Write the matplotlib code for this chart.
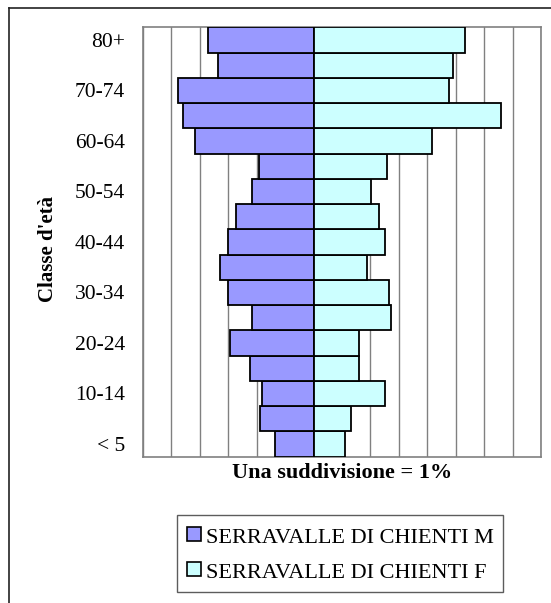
import matplotlib
matplotlib.use("Agg")
import matplotlib.pyplot as plt
import numpy as np
from matplotlib.lines import Line2D

plt.rcParams['font.family'] = ['Liberation Serif', 'DejaVu Serif']

categories = ["< 5", "5-9", "10-14", "15-19", "20-24", "25-29", "30-34", "35-39",
              "40-44", "45-49", "50-54", "55-59", "60-64", "65-69", "70-74", "75-79", "80+"]
male = [1.35, 1.90, 1.83, 2.24, 2.95, 2.17, 3.02, 3.30, 3.02, 2.74, 2.18, 1.92,
        4.16, 4.58, 4.77, 3.37, 3.72]
female = [1.12, 1.31, 2.53, 1.59, 1.59, 2.73, 2.65, 1.87, 2.53, 2.30, 2.03, 2.59,
          4.15, 6.59, 4.78, 4.91, 5.33]
tick_labels = ["< 5", "10-14", "20-24", "30-34", "40-44", "50-54", "60-64", "70-74", "80+"]
series_names = ["SERRAVALLE DI CHIENTI M", "SERRAVALLE DI CHIENTI F"]
col_m = "#9999FF"
col_f = "#CCFFFF"

W, H = 551, 603
fig = plt.figure(figsize=(W / 100, H / 100), dpi=100)
ax = fig.add_axes([143 / W, 1 - 456.5 / H, (541 - 143) / W, (456.5 - 27.3) / H])

y = np.arange(len(categories))
ax.barh(y, -np.array(male), height=1.0, color=col_m, edgecolor="black", linewidth=1.3, zorder=3)
ax.barh(y, female, height=1.0, color=col_f, edgecolor="black", linewidth=1.3, zorder=3)

ax.set_xlim(-6, 8)
ax.set_ylim(-0.5, len(categories) - 0.5)
for g in range(-6, 9):
    ax.axvline(g, color="#808080", linewidth=1.0, zorder=1)

ax.set_xticks([])
ticks_pos = [categories.index(t) for t in tick_labels]
ax.set_yticks(ticks_pos)
ax.set_yticklabels(tick_labels, fontsize=15.5)
ax.tick_params(axis="y", length=0, pad=13)
for s in ax.spines.values():
    s.set_color("#808080")
    s.set_linewidth(1.2)

ax.set_xlabel("Una suddivisione = 1%", fontsize=16, fontweight="bold", labelpad=5)
fig.text(48 / W, 1 - 249 / H, "Classe d'età", rotation=90, fontsize=15, fontweight="bold",
         ha="center", va="center")

handles = [Line2D([], [], linestyle="none", marker="s", markersize=10.5,
                  markerfacecolor=col_m, markeredgecolor="black", markeredgewidth=1.2),
           Line2D([], [], linestyle="none", marker="s", markersize=10.5,
                  markerfacecolor=col_f, markeredgecolor="black", markeredgewidth=1.2)]
leg = fig.legend(handles, series_names, loc="upper left",
                 bbox_to_anchor=(177 / W, 1 - 515 / H), fontsize=16,
                 frameon=True, fancybox=False, shadow=False,
                 handlelength=0.7, handleheight=1.25, handletextpad=0.2,
                 borderpad=0.4, labelspacing=0.5, borderaxespad=0)
leg.get_frame().set_edgecolor("#333333")
leg.get_frame().set_linewidth(1.0)

# outer frame (top and left edges visible)
fig.add_artist(Line2D([9 / W, 1.0], [1 - 8 / H, 1 - 8 / H], color="#222222", linewidth=1.2))
fig.add_artist(Line2D([9 / W, 9 / W], [0, 1 - 8 / H], color="#222222", linewidth=1.2))

fig.savefig("out.png", dpi=100)
